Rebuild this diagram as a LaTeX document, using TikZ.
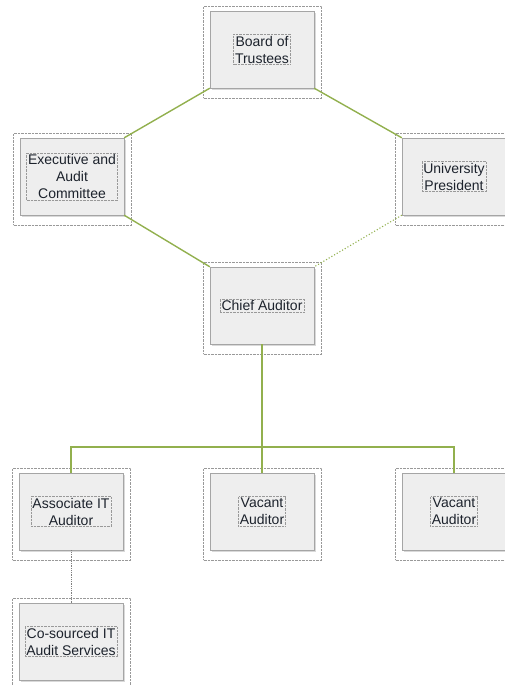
\documentclass[tikz,border=0pt]{standalone}
\usepackage{fontspec}
\setmainfont{Liberation Sans}
\usetikzlibrary{shadows,calc}
\definecolor{linkgreen}{RGB}{146,176,78}
\definecolor{boxgray}{RGB}{238,238,238}
\definecolor{edgegray}{RGB}{165,165,165}
\definecolor{inkblue}{RGB}{28,34,44}
\tikzstyle{frame} = [draw=gray!80, densely dotted, minimum width=118pt, minimum height=92pt]
\tikzstyle{block} = [draw=edgegray, fill=boxgray, minimum width=104pt, minimum height=77pt,
	drop shadow={shadow xshift=1.5pt, shadow yshift=-2pt, opacity=0.3, fill=gray}]
\tikzstyle{caption} = [draw=gray!80, densely dotted, inner sep=1.5pt, align=center,
	text=inkblue, font=\fontsize{14}{17}\selectfont]
\tikzstyle{link} = [draw=linkgreen, line width=1.4pt]

% one position of the chart: dotted frame, grey box and its caption
\newcommand{\orgbox}[3]{
	\node (#1_FRAME) [frame] at ($#2+(0.5,2.5)$) {};
	\node (#1) [block] at #2 {};
	\node (#1_TEXT) [caption] at #2 {#3};
}

\begin{document}
\begin{tikzpicture}[x=1pt, y=-1pt]
	\useasboundingbox (0,0) rectangle (504,685);

	\orgbox{BOARD}{(262,49.5)}{Board of\\Trustees}
	\orgbox{EXEC}{(72,176.5)}{Executive and\\Audit\\Committee}
	\orgbox{PRES}{(454,176.5)}{University\\President}
	\orgbox{CHIEF}{(262,305.5)}{Chief Auditor}
	\orgbox{ASSOC}{(71,511.5)}{Associate IT\\Auditor}
	\orgbox{VACANT_A}{(262,511.5)}{Vacant\\Auditor}
	\orgbox{VACANT_B}{(454,511.5)}{Vacant\\Auditor}
	\orgbox{COSRC}{(71,641.5)}{Co-sourced IT\\Audit Services}

	\coordinate (BUS) at (262,447);

	\draw[link] (BOARD.south west) -- (EXEC.north east);
	\draw[link] (BOARD.south east) -- (PRES.north west);
	\draw[link] (EXEC.south east) -- (CHIEF.north west);
	\draw[link, line width=1.1pt, dotted] (PRES.south west) -- (CHIEF.north east);
	\draw[link] (CHIEF.south) -- (BUS);
	\draw[link] (ASSOC.north) |- (BUS) -| (VACANT_B.north);
	\draw[link] (BUS) -- (VACANT_A.north);
	\draw[gray, densely dotted, line width=0.8pt] (ASSOC.south) -- (COSRC.north);
\end{tikzpicture}
\end{document}
